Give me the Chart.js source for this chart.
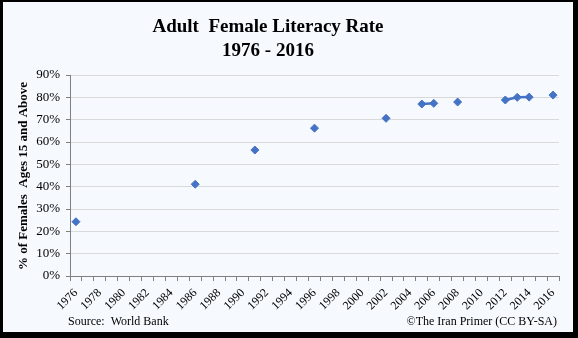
<!DOCTYPE html>
<html>
<head>
<meta charset="utf-8">
<script src="https://cdn.jsdelivr.net/npm/chart.js@4"></script>
<style>
  html, body { margin: 0; padding: 0; background: #000; }
  body { width: 578px; height: 338px; position: relative; overflow: hidden; }
  #wrap { position: absolute; left: 3px; top: 2px; width: 570px; height: 330px; background: #F6FAFE; }
</style>
</head>
<body>
<div id="wrap"><canvas id="chart" width="570" height="330"></canvas></div>
<script>
// Survey years and the female literacy rate (%) reported for each
const years = [1976, 1986, 1991, 1996, 2002, 2005, 2006, 2008, 2012, 2013, 2014, 2016];
const literacy = [24.3, 41.1, 56.4, 66.2, 70.6, 77.0, 77.3, 77.9, 78.8, 80.0, 80.1, 81.0];

// one category per year, labelled every second year
const categories = [];
for (let y = 1976; y <= 2016; y++) categories.push(String(y));

// years without a survey stay empty so only consecutive years get joined
const series = categories.map(c => {
    const i = years.indexOf(Number(c));
    return i < 0 ? null : literacy[i];
});

const serif = '"Liberation Serif", "Times New Roman", serif';

// titles and footnotes drawn straight onto the canvas
const textPlugin = {
    id: 'texts',
    afterDraw(chart) {
        const c = chart.ctx;
        c.save();
        c.fillStyle = '#000';
        c.textAlign = 'center';
        c.textBaseline = 'alphabetic';
        c.font = 'bold 19px ' + serif;
        c.fillText('Adult  Female Literacy Rate', 265, 30);
        c.fillText('1976 - 2016', 265, 54);

        c.font = 'bold 13px ' + serif;
        c.translate(24, 174);
        c.rotate(-Math.PI / 2);
        c.fillText('% of Females  Ages 15 and Above', 0, 0);
        c.restore();

        c.save();
        c.fillStyle = '#000';
        c.font = '12px ' + serif;
        c.textAlign = 'left';
        c.fillText('Source:  World Bank', 65, 323);
        c.textAlign = 'right';
        c.fillText('\u00A9The Iran Primer (CC BY-SA)', 554, 323);
        c.restore();
    }
};

const ctx = document.getElementById('chart').getContext('2d');
const chart = new Chart(ctx, {
    type: 'line',
    data: {
        labels: categories,
        datasets: [{
            label: 'Female literacy',
            data: series,
            borderColor: '#4472C4',
            backgroundColor: '#4472C4',
            borderWidth: 2.5,
            pointStyle: 'rectRot',
            pointRadius: 4,
            pointBorderWidth: 1,
            spanGaps: false,
        }]
    },
    options: {
        responsive: false,
        animation: false,
        events: [],
        layout: { padding: { top: 73, right: 14, left: 0, bottom: 0 } },
        plugins: {
            legend: { display: false },
            tooltip: { enabled: false },
        },
        scales: {
            x: {
                offset: true,
                afterFit(scale) { scale.height = 56; },
                grid: {
                    offset: true,
                    drawOnChartArea: false,
                    color: '#808080',
                    tickLength: 5,
                },
                border: { color: '#808080' },
                ticks: {
                    autoSkip: false,
                    maxRotation: 45,
                    minRotation: 45,
                    padding: 5,
                    color: '#000',
                    font: { family: serif, size: 12 },
                    callback: (v, i) => (i % 2 === 0 ? categories[i] : ''),
                },
            },
            y: {
                min: 0,
                max: 90,
                afterFit(scale) { scale.width = 67; },
                grid: {
                    color: '#D9D9D9',
                    tickColor: '#808080',
                    tickLength: 4,
                },
                border: { color: '#808080' },
                ticks: {
                    stepSize: 10,
                    padding: 6,
                    color: '#000',
                    font: { family: serif, size: 13 },
                    callback: v => v + '%',
                },
            }
        }
    },
    plugins: [textPlugin]
});
</script>
</body>
</html>
